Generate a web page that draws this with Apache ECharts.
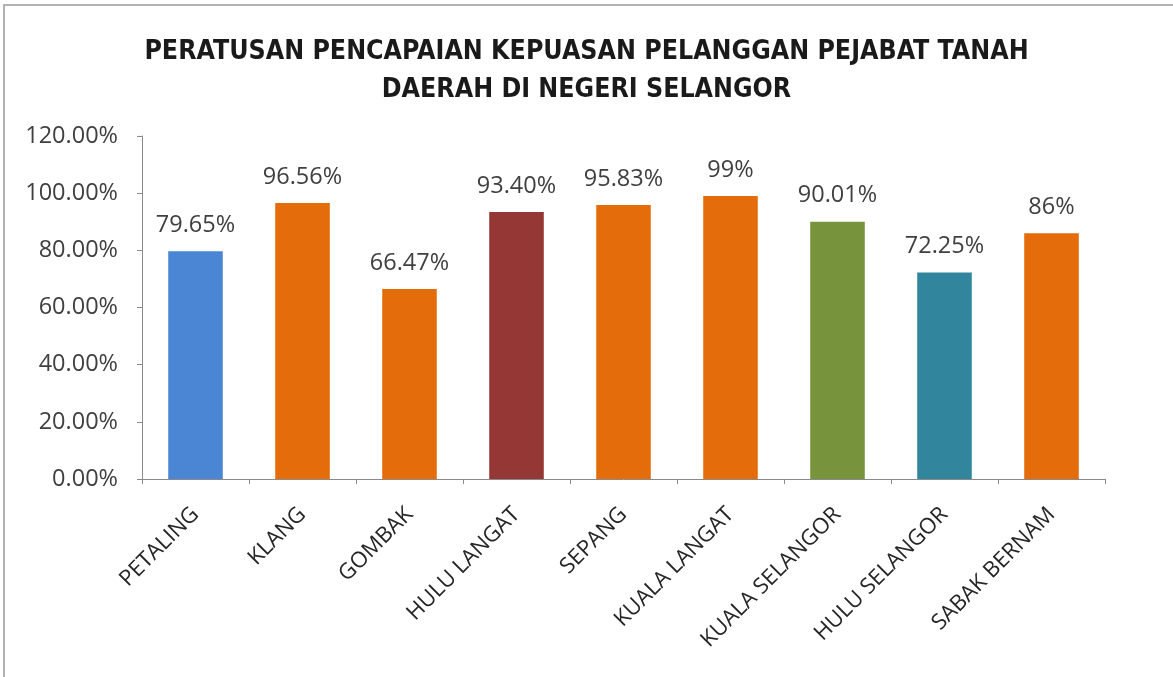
<!DOCTYPE html>
<html>
<head>
    <meta charset="UTF-8">
    <script src="https://cdn.jsdelivr.net/npm/echarts@6/dist/echarts.min.js"></script>
    <style>
        html, body { margin: 0; padding: 0; background: #fff; }
        #chart { width: 1173px; height: 677px; }
    </style>
</head>
<body>
<div id="chart"></div>
<script>
    // data
    var categories = ['PETALING', 'KLANG', 'GOMBAK', 'HULU LANGAT', 'SEPANG', 'KUALA LANGAT', 'KUALA SELANGOR', 'HULU SELANGOR', 'SABAK BERNAM'];
    var values = [79.65, 96.56, 66.47, 93.40, 95.83, 99, 90.01, 72.25, 86];
    var valueLabels = ['79.65%', '96.56%', '66.47%', '93.40%', '95.83%', '99%', '90.01%', '72.25%', '86%'];
    var barColors = ['#4a86d4', '#e46c0a', '#e46c0a', '#953735', '#e46c0a', '#e46c0a', '#77933c', '#31859c', '#e46c0a'];
    var titleText = 'PERATUSAN PENCAPAIAN KEPUASAN PELANGGAN PEJABAT TANAH\nDAERAH DI NEGERI SELANGOR';

    var font = '"Open Sans", sans-serif';
    var narrow = '"DejaVu Sans Condensed", sans-serif';

    var chart = echarts.init(document.getElementById('chart'));
    chart.setOption({
        animation: false,
        graphic: [{
            type: 'rect',
            shape: { x: 4, y: 5, width: 1180, height: 690 },
            style: { fill: 'none', stroke: '#9a9a9a', lineWidth: 1.5 },
            silent: true
        }],
        title: {
            text: titleText,
            left: 'center',
            top: 28,
            textStyle: {
                fontFamily: narrow,
                fontWeight: 'bold',
                fontSize: 26.5,
                lineHeight: 38,
                color: '#1a1a1a'
            }
        },
        grid: { left: 142, right: 68, top: 136, bottom: 198 },
        xAxis: {
            type: 'category',
            data: categories,
            axisLine: { lineStyle: { color: '#8a8a8a' } },
            axisTick: { show: true, alignWithLabel: false, length: 5, lineStyle: { color: '#8a8a8a' } },
            axisLabel: {
                rotate: 45,
                interval: 0,
                margin: 32,
                fontFamily: font,
                fontSize: 22,
                color: '#262626'
            }
        },
        yAxis: {
            type: 'value',
            min: 0,
            max: 120,
            interval: 20,
            splitLine: { show: false },
            axisLine: { show: true, lineStyle: { color: '#8a8a8a' } },
            axisTick: { show: true, length: 5, lineStyle: { color: '#8a8a8a' } },
            axisLabel: {
                margin: 24,
                fontFamily: font,
                fontSize: 23.5,
                color: '#404040',
                formatter: function (v) { return v.toFixed(2) + '%'; }
            }
        },
        series: [{
            type: 'bar',
            barWidth: '51%',
            data: values.map(function (v, i) {
                return { value: v, itemStyle: { color: barColors[i] } };
            }),
            label: {
                show: true,
                position: 'top',
                distance: 14,
                fontFamily: font,
                fontSize: 23.5,
                color: '#404040',
                formatter: function (p) { return valueLabels[p.dataIndex]; }
            }
        }]
    });
</script>
</body>
</html>
